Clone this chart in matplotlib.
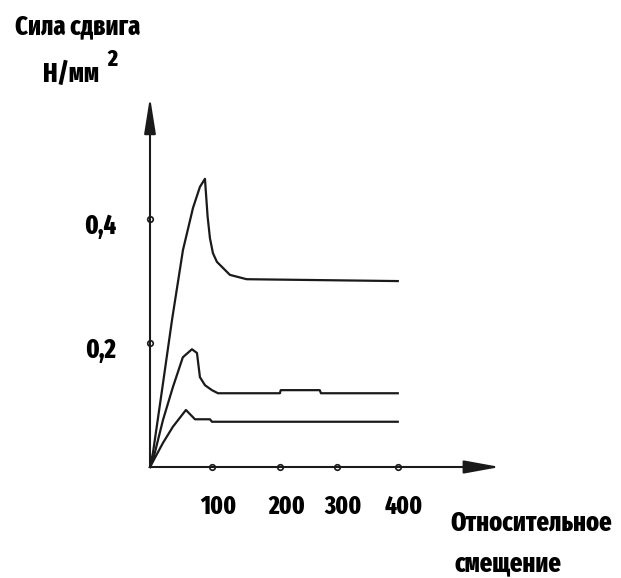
import matplotlib
matplotlib.use('Agg')
import matplotlib.pyplot as plt

plt.rcParams['font.family'] = ['Fira Sans Extra Condensed', 'Roboto Condensed', 'DejaVu Sans']

# Curves: x is relative displacement, y is shear force, N/mm2
top_x = [0, 4.8, 19.4, 35.5, 53.2, 69.4, 80.6, 88.7, 93, 96.8, 101.6, 108, 129, 156, 400]
top_y = [0, 0.023, 0.124, 0.237, 0.350, 0.418, 0.452, 0.465, 0.404, 0.369, 0.345, 0.331, 0.310, 0.303, 0.300]

mid_x = [0, 4.8, 21, 37, 53, 67.7, 75.8, 80.6, 88.7, 100, 109.7, 209.7, 211, 274, 276, 400]
mid_y = [0, 0.011, 0.076, 0.129, 0.177, 0.190, 0.184, 0.145, 0.132, 0.124, 0.119, 0.119, 0.124, 0.124, 0.119, 0.119]

low_x = [0, 21, 37, 58, 72.6, 96.8, 100, 400]
low_y = [0, 0.039, 0.065, 0.092, 0.077, 0.077, 0.073, 0.073]

x_tick_pos = [100, 210, 302, 400]
x_tick_labels = ['100', '200', '300', '400']
y_tick_pos = [0.2, 0.4]
y_tick_labels = ['0,2', '0,4']

W, H = 621, 578
fig = plt.figure(figsize=(W / 100, H / 100), dpi=100)
# origin of the axes sits at pixel (150, 467)
ax = fig.add_axes([150 / W, (H - 467) / H, 350 / W, 370 / H])
ax.set_xlim(0, 565)
ax.set_ylim(0, 0.597)
ax.axis('off')

ink = '#1a1a1a'
for xs, ys in [(top_x, top_y), (mid_x, mid_y), (low_x, low_y)]:
    ax.plot(xs, ys, color=ink, lw=1.6, clip_on=False)

# axes with arrows
ax.annotate('', xy=(0, 0.597), xytext=(0, 0),
            arrowprops=dict(arrowstyle='-|>,head_length=2.2,head_width=0.35',
                            color=ink, lw=1.5, shrinkA=0, shrinkB=0))
ax.annotate('', xy=(565, 0), xytext=(0, 0),
            arrowprops=dict(arrowstyle='-|>,head_length=2.2,head_width=0.4',
                            color=ink, lw=1.5, shrinkA=0, shrinkB=0))

# tick circles
ax.plot(x_tick_pos, [0] * len(x_tick_pos), 'o', ms=4, mfc='white', mec=ink, mew=1.2, clip_on=False)
ax.plot([0] * len(y_tick_pos), y_tick_pos, 'o', ms=4, mfc='white', mec=ink, mew=1.2, clip_on=False)

for xp, lab in zip(x_tick_pos, x_tick_labels):
    ax.text(xp + 10, -0.065, lab, ha='center', va='center', fontsize=18, fontweight='heavy')
for yp, lab in zip(y_tick_pos, y_tick_labels):
    ax.text(-80, yp - 0.011, lab, ha='center', va='center', fontsize=19, fontweight='heavy')

def ftext(px, py, s, **kw):
    fig.text(px / W, 1 - py / H, s, ha='center', va='center', fontweight='heavy', **kw)

ftext(78, 27, 'Сила сдвига', fontsize=19)
ftext(71, 74, 'Н/мм', fontsize=19)
ftext(112, 59, '2', fontsize=17)
ftext(531, 523, 'Относительное', fontsize=19)
ftext(508, 564, 'смещение', fontsize=19)

fig.savefig('out.png', dpi=100)
